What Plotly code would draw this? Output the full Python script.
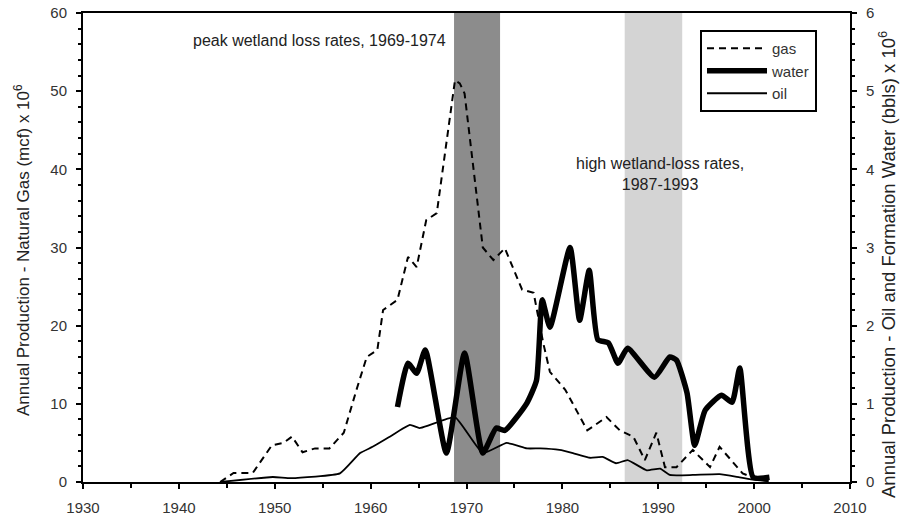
import plotly.graph_objects as go

gas_years = [1944.3, 1945.7, 1947.7, 1949.7, 1950.9, 1951.8, 1952.9, 1954.2, 1955.7, 1957.2,
             1958.6, 1959.6, 1960.7, 1961.3, 1962.8, 1963.9, 1964.8, 1965.8, 1966.9, 1968.8,
             1969.3, 1969.8, 1971.7, 1972.8, 1974.0, 1975.8, 1977.0, 1978.0, 1978.7, 1980.3,
             1982.6, 1984.6, 1986.0, 1987.4, 1988.6, 1989.8, 1990.7, 1991.9, 1993.6, 1995.4,
             1996.4, 1998.8, 2000.0, 2001.5]
gas_values = [0.0, 1.15, 1.15, 4.7, 5.0, 5.8, 3.8, 4.3, 4.3, 6.3,
              12.1, 16.0, 16.9, 22.0, 23.3, 28.8, 27.5, 33.5, 34.4, 51.4,
              51.0, 49.7, 30.0, 28.4, 29.9, 24.6, 24.2, 17.8, 14.1, 11.8,
              6.6, 8.3, 6.6, 5.8, 2.8, 6.3, 1.9, 1.9, 4.1, 1.9,
              4.5, 1.1, 0.5, 0.1]

water_years = [1962.8, 1963.9, 1964.8, 1965.7, 1967.9, 1969.8, 1971.7, 1973.1, 1974.0, 1976.3,
               1977.3, 1977.9, 1978.7, 1980.8, 1981.8, 1982.8, 1983.7, 1984.8, 1985.8, 1986.8,
               1989.6, 1991.2, 1991.9, 1993.0, 1993.8, 1994.9, 1996.6, 1997.7, 1998.5, 1999.9,
               2001.6]
water_values = [0.96, 1.52, 1.39, 1.69, 0.37, 1.65, 0.37, 0.69, 0.66, 1.01,
                1.30, 2.33, 1.98, 3.00, 2.07, 2.71, 1.82, 1.78, 1.52, 1.71,
                1.34, 1.60, 1.56, 1.14, 0.47, 0.92, 1.11, 1.02, 1.46, 0.06,
                0.06]

oil_years = [1944.3, 1949.8, 1951.7, 1956.8, 1958.9, 1960.2, 1962.0, 1964.1, 1965.1, 1966.2,
             1968.8, 1971.7, 1974.2, 1976.3, 1977.7, 1979.7, 1981.1, 1982.9, 1984.2, 1985.6,
             1986.8, 1988.8, 1990.2, 1991.2, 1993.6, 1996.4, 1998.5, 2000.0, 2001.5]
oil_values = [0.0, 0.064, 0.05, 0.11, 0.37, 0.45, 0.58, 0.73, 0.69, 0.73,
              0.83, 0.37, 0.50, 0.43, 0.43, 0.41, 0.37, 0.31, 0.32, 0.24,
              0.28, 0.15, 0.17, 0.09, 0.09, 0.10, 0.06, 0.03, 0.01]

peak_band = [1968.7, 1973.5]
high_band = [1986.5, 1992.5]

font_family = "Liberation Sans, Arial, sans-serif"

# plot area in pixels (body margin removed via post_script)
PL, PR, PT, PB = 83, 850, 13, 482


def px(xp):
    return (xp - PL) / (PR - PL)


def py(yp):
    return (PB - yp) / (PB - PT)


fig = go.Figure()
fig.add_trace(go.Scatter(x=gas_years, y=gas_values, name="gas", mode="lines",
                         line=dict(color="black", width=2, dash="7px,5px"), yaxis="y"))
fig.add_trace(go.Scatter(x=water_years, y=water_values, name="water", mode="lines",
                         line=dict(color="black", width=5.5, shape="spline", smoothing=0.5),
                         yaxis="y2"))
fig.add_trace(go.Scatter(x=oil_years, y=oil_values, name="oil", mode="lines",
                         line=dict(color="black", width=1.8, shape="spline", smoothing=0.4),
                         yaxis="y2"))

fig.add_shape(type="rect", xref="x", yref="paper", x0=peak_band[0], x1=peak_band[1], y0=0, y1=1,
              fillcolor="#8c8c8c", line=dict(width=0), layer="below")
fig.add_shape(type="rect", xref="x", yref="paper", x0=high_band[0], x1=high_band[1], y0=0, y1=1,
              fillcolor="#d4d4d4", line=dict(width=0), layer="below")

fig.add_annotation(text="peak wetland loss rates, 1969-1974", xref="paper", yref="paper",
                   x=px(319), y=py(40), showarrow=False, xanchor="center", yanchor="middle",
                   font=dict(size=16, color="#222", family=font_family))
fig.add_annotation(text="high wetland-loss rates,<br>1987-1993", xref="paper", yref="paper",
                   x=px(660), y=py(174), showarrow=False, xanchor="center", yanchor="middle",
                   font=dict(size=16, color="#222", family=font_family))

fig.add_annotation(text="Annual Production - Natural Gas (mcf) x 10<sup>6</sup>",
                   xref="paper", yref="paper", x=px(22), y=py(250), textangle=-90,
                   showarrow=False, xanchor="center", yanchor="middle",
                   font=dict(size=17, color="#222", family=font_family))
fig.add_annotation(text="Annual Production - Oil and Formation Water (bbls) x 10<sup>6</sup>",
                   xref="paper", yref="paper", x=px(887), y=py(264), textangle=-90,
                   showarrow=False, xanchor="center", yanchor="middle",
                   font=dict(size=18.5, color="#222", family=font_family))

axis_common = dict(showgrid=False, zeroline=False, showline=True, linecolor="black", linewidth=2,
                   ticks="outside", tickcolor="black", tickwidth=1.5, ticklen=5,
                   automargin=False, ticklabelstandoff=6, ticklabeloverflow="allow",
                   tickfont=dict(size=15, color="#333", family=font_family))

fig.update_layout(
    width=901, height=516,
    margin=dict(l=PL, r=901 - PR, t=PT, b=516 - PB, autoexpand=False),
    plot_bgcolor="white", paper_bgcolor="white",
    font=dict(family=font_family, color="#222"),
    xaxis=dict(range=[1930, 2010], dtick=10, tick0=1930, mirror=True,
               minor=dict(dtick=5, ticks="outside", ticklen=4, tickcolor="black"),
               **axis_common),
    yaxis=dict(range=[0, 60], dtick=10, mirror=False,
               minor=dict(dtick=2, ticks="outside", ticklen=3, tickcolor="black"),
               **axis_common),
    yaxis2=dict(range=[0, 6], dtick=1, overlaying="y", side="right",
                minor=dict(dtick=0.2, ticks="outside", ticklen=3, tickcolor="black"),
                **axis_common),
    legend=dict(x=px(700), y=py(30), xanchor="left", yanchor="top",
                bgcolor="white", bordercolor="black", borderwidth=2,
                font=dict(size=15, color="#333"), itemwidth=60, tracegroupgap=0),
    showlegend=True,
)

fig.write_html("out.html", config={"displayModeBar": False},
               post_script="document.body.style.margin='0';")
